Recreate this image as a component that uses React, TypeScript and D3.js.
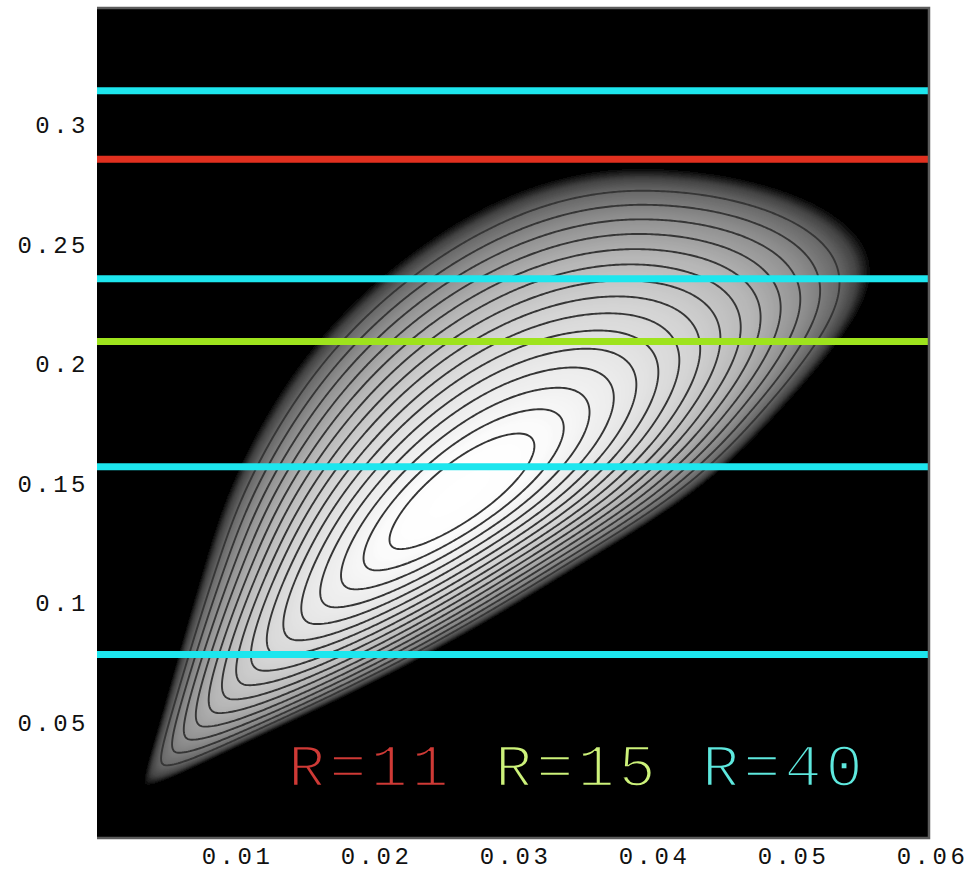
import React, { useMemo } from 'react';
import * as d3 from 'd3';

// axis ticks
const xTicks = [0.01, 0.02, 0.03, 0.04, 0.05, 0.06];
const yTicks = [0.05, 0.1, 0.15, 0.2, 0.25, 0.3];

// horizontal lines, one list per R
const rLabels = ['R=11', 'R=15', 'R=40'];
const rLineColors = ['#e1301f', '#9ee31d', '#1de6ee'];
const rTextColors = ['#cf3a36', '#cdf27a', '#5ee8de'];
const r11Levels = [0.2856];
const r15Levels = [0.2094];
const r40Levels = [0.0785, 0.157, 0.2356, 0.3142];
const rLevels = [r11Levels, r15Levels, r40Levels];

// contour surface
const peak = [0.026, 0.146];          // x, y of the white centre
const ySpread = [0.119, 0.133];       // reach in y, below / above the centre
// reach of the ratio x/y left and right of the ridge, from the bottom (-1) to the top (+1)
const leftSpread = [0.111, 0.111, 0.111, 0.111, 0.112, 0.109, 0.104, 0.095, 0.083];
const rightSpread = [0.19, 0.178, 0.145, 0.12, 0.113, 0.095, 0.092, 0.1, 0.1];
const ridgeBend = [2.15];
const profilePower = [1.37];
const contourLevels = [0.104, 0.164, 0.223, 0.283, 0.342, 0.402, 0.461, 0.521,
  0.58, 0.64, 0.699, 0.759, 0.818, 0.878, 0.937];

const W = 970, H = 873;
const plot = { left: 97, right: 929, top: 8, bottom: 838 };

const xScale = d3.scaleLinear().domain([0, 0.06]).range([97, 931]);
const yScale = d3.scaleLinear().domain([0, 0.35]).range([842.1, 5.2]);

const leftAt = d3.interpolateBasis(leftSpread);
const rightAt = d3.interpolateBasis(rightSpread);

function surface(x: number, y: number) {
  if (y <= 0.002) return 3;
  const t = x / y;
  const dy = y - peak[1];
  const mid = (ySpread[0] + ySpread[1]) / 2, half = (ySpread[1] - ySpread[0]) / 2;
  const Y = dy / (mid + half * Math.tanh(dy / 0.02));
  const tc = peak[0] / peak[1] - ridgeBend[0] * dy * dy;
  const dt = t - tc;
  const s = Math.max(0, Math.min(1, (Y + 1) / 2));
  const a = dt < 0 ? leftAt(s) : rightAt(s);
  const T = dt / a;
  return Math.min(3, Math.pow(Math.sqrt(T * T + Y * Y), profilePower[0]));
}

const greyOf = d3.scaleLinear<number>()
  .domain([0, 0.1, 0.2, 0.35, 0.5, 0.67, 0.84, 0.94, 0.99, 1.035])
  .range([255, 253, 243, 228, 210, 182, 140, 102, 66, 0])
  .clamp(true);

export default function App() {
  const { bands, lines } = useMemo(() => {
    const step = 2;
    const nx = Math.ceil((plot.right - plot.left) / step) + 1;
    const ny = Math.ceil((plot.bottom - plot.top) / step) + 1;
    const values = new Array(nx * ny);
    for (let j = 0; j < ny; j++) {
      const y = yScale.invert(plot.top + j * step);
      for (let i = 0; i < nx; i++) {
        const x = xScale.invert(plot.left + i * step);
        values[j * nx + i] = 1 - surface(x, y);
      }
    }
    const proj = d3.geoTransform({
      point(px: number, py: number) {
        (this as any).stream.point(plot.left + px * step, plot.top + py * step);
      },
    });
    const path = d3.geoPath(proj);
    const gen = d3.contours().size([nx, ny]);
    const bands = gen.thresholds(d3.range(-0.04, 1.0, 0.01))(values).map((c) => {
      const g = Math.round(greyOf(1 - (c.value + 0.005)));
      return { d: path(c as any) || '', fill: `rgb(${g},${g},${g})` };
    });
    const lines = gen.thresholds(contourLevels.map((l) => 1 - l))(values)
      .map((c) => path(c as any) || '');
    return { bands, lines };
  }, []);

  const mono = "'Liberation Mono', 'DejaVu Sans Mono', monospace";

  return (
    <div style={{ position: 'absolute', left: 0, top: 0 }}>
      <svg width={W} height={H} style={{ display: 'block', background: '#fff' }}>
        <defs>
          <clipPath id="plotClip">
            <rect x={plot.left} y={plot.top} width={plot.right - plot.left} height={plot.bottom - plot.top} />
          </clipPath>
          <filter id="soft" x="-5%" y="-5%" width="110%" height="110%">
            <feGaussianBlur stdDeviation="1.1" />
          </filter>
        </defs>

        <rect x={plot.left} y={plot.top} width={plot.right - plot.left} height={plot.bottom - plot.top} fill="#000" />

        <g clipPath="url(#plotClip)">
          <g filter="url(#soft)">
            {bands.map((b, i) => <path key={i} d={b.d} fill={b.fill} />)}
          </g>
          {lines.map((d, i) => (
            <path key={i} d={d} fill="none" stroke="#363636" strokeWidth={1.9} />
          ))}
          {rLevels.map((lv, k) => lv.map((v, i) => (
            <line key={`${k}-${i}`} x1={plot.left - 1} x2={plot.right + 1}
              y1={yScale(v)} y2={yScale(v)} stroke={rLineColors[k]} strokeWidth={7} />
          )))}
        </g>

        <path d={`M${plot.left},${plot.top}H${plot.right}V${plot.bottom}H${plot.left}`}
          fill="none" stroke="#5c5c5c" strokeWidth={2.5} />

        {rLabels.map((s, i) => (
          <text key={s} x={288 + i * 207} y={786} fill={rTextColors[i]}
            stroke="#000" strokeWidth={2.4}
            style={{ paintOrder: 'fill' }}
            fontFamily={mono} fontSize={62} letterSpacing={4}>{s}</text>
        ))}

        {yTicks.map((v) => (
          <text key={v} x={89} y={yScale(v)} dy="0.35em" textAnchor="end"
            fontFamily={mono} fontSize={24} letterSpacing={3.5} fill="#111">{String(v)}</text>
        ))}
        {xTicks.map((v) => (
          <text key={v} x={xScale(v) + 1.5} y={864} textAnchor="middle"
            fontFamily={mono} fontSize={24} letterSpacing={3.5} fill="#111">{String(v)}</text>
        ))}
      </svg>
    </div>
  );
}
